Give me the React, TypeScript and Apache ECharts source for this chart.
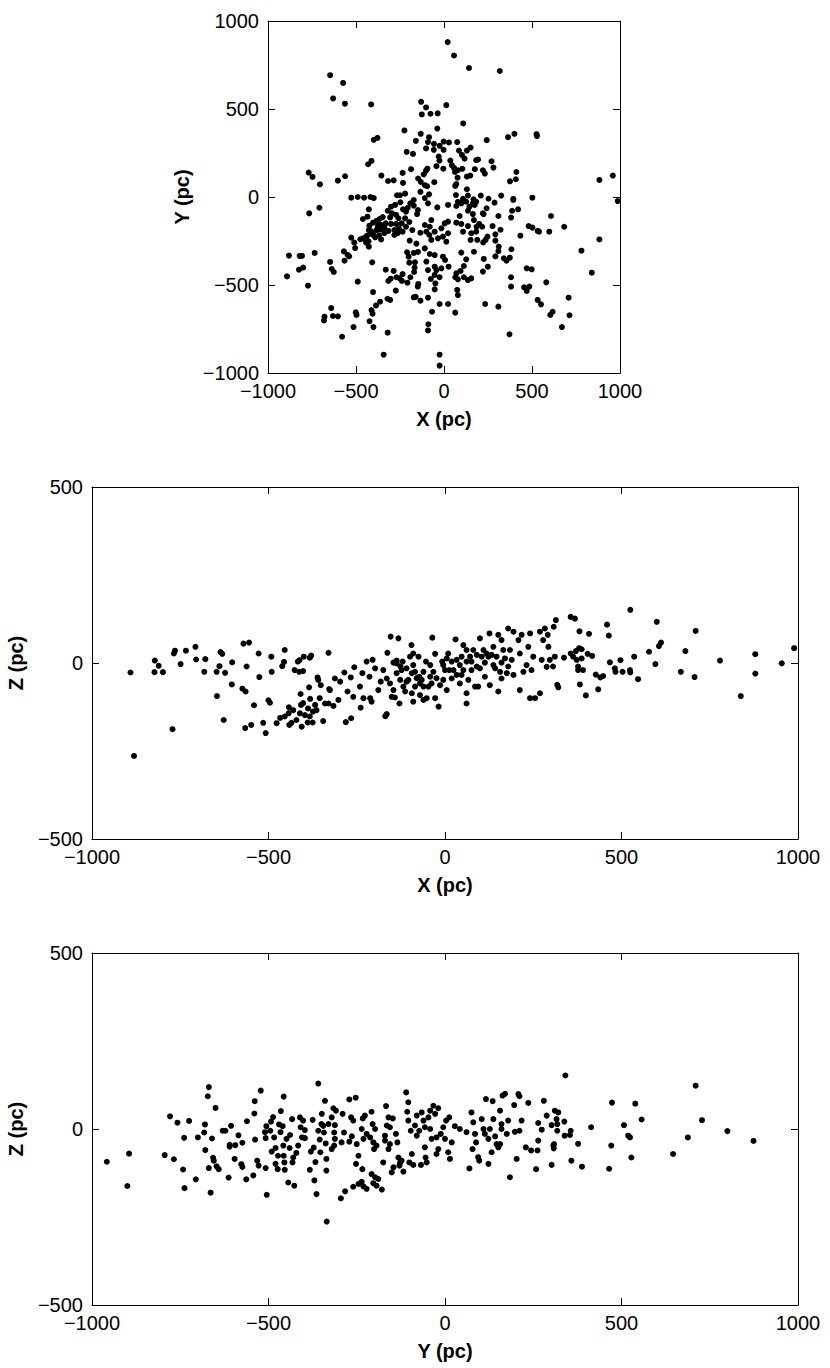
import React, { useEffect, useRef } from "react";
import * as echarts from "echarts";

// ---- Data (parsec) ----
const xyLabels = { x: "X (pc)", y: "Y (pc)" };
const xzLabels = { x: "X (pc)", y: "Z (pc)" };
const yzLabels = { x: "Y (pc)", y: "Z (pc)" };

// Panel 1: X vs Y
const pointsXY: [number, number][] = [
  [-647,692],[-573,648],[-630,560],[-563,530],[-414,526],[-225,378],[-378,336],[-399,325],[-212,256],[-176,245],[-412,205],[-431,186],[-769,139],[-747,114],[-705,72],[-603,93],[-562,118],[-356,122],[-318,91],[-286,95],[-235,137],[-233,80],[-187,158],[-527,-4],[-490,0],[-454,-4],[-418,0],[-399,-6],[-267,10],[-250,10],[-221,19],
  [21,880],[57,804],[142,733],[317,716],[-130,541],[-102,509],[-126,469],[-77,473],[-36,475],[13,522],[-38,389],[109,418],[-132,359],[-160,319],[-85,340],[-91,312],[-57,302],[-25,291],[-2,315],[28,310],[75,312],[243,323],[364,340],[400,359],[526,357],[528,346],[-102,276],[-58,268],[-2,268],[85,264],[130,264],[151,281],[102,239],[117,218],[-30,230],[-26,207],[-43,175],[36,207],[45,180],[57,165],[62,142],[79,152],[104,160],[-4,161],[183,209],[194,213],[270,203],[281,167],[221,152],[232,133],[175,158],[130,116],[149,122],[77,110],[70,74],[64,63],[411,142],[408,101],[375,89],[-94,161],[-102,150],[-115,129],[-147,105],[-132,86],[-109,67],[-96,61],[-55,84],[-134,29],[-85,15],[-109,-6],[68,11],[130,44],[136,8],[108,-10],[168,-13],[209,8],[253,-10],[325,8],[394,-11],[502,-4],[883,97],[959,122],
  [-766,-93],[-708,-61],[-881,-333],[-892,-451],[-820,-335],[-807,-335],[-824,-413],[-800,-401],[-735,-318],[-773,-504],[-647,-369],[-638,-409],[-626,-426],[-641,-631],[-679,-680],[-682,-701],[-631,-676],[-603,-678],[-579,-794],[-565,-362],[-569,-309],[-548,-328],[-539,-337],[-527,-231],[-510,-259],[-505,-290],[-490,-481],[-501,-655],[-497,-670],[-514,-739],[-475,-240],[-460,-235],[-441,-225],[-443,-259],[-429,-252],[-461,-125],[-435,-112],[-427,-70],[-408,-371],[-403,-540],[-412,-642],[-406,-663],[-423,-706],[-401,-739],[-386,-616],[-363,-595],[-343,-896],[-320,-771],[-321,-578],[-306,-585],[-331,-413],[-316,-477],[-303,-464],[-286,-420],[-270,-456],[-274,-532],[-252,-462],[-235,-438],[-239,-477],[-208,-487],[-191,-456],[-172,-570],[-161,-567],[-134,-589],[-146,-494],[-149,-509],[-170,-426],[-167,-401],[-165,-371],[-172,-318],[-210,-314],[-201,-339],[-197,-373],[-148,-312],[-157,-265],[-134,-203],[-180,-188],[-195,-248],[-153,-97],[-148,-74],[-172,-17],
  [-424,-163],[-403,-146],[-384,-136],[-376,-165],[-361,-157],[-414,-195],[-403,-214],[-384,-188],[-363,-184],[-339,-174],[-391,-229],[-369,-218],[-339,-205],[-316,-193],[-331,-150],[-306,-116],[-295,-93],[-272,-102],[-259,-121],[-272,-153],[-301,-153],[-282,-188],[-257,-178],[-240,-150],[-221,-121],[-216,-83],[-206,-61],[-191,-36],[-172,-49],[-233,-70],[-248,-30],[-278,-45],[-301,-55],[-320,-78],[-348,-114],[-367,-125],[-410,-210],[-427,-188],[-427,-282],[-437,-220],[-269,-197],[-235,-197],[-216,-169],[-197,-142],[-263,-206],[-357,-241],[-282,-216],
  [987,-23],[-38,-59],[394,-17],[287,-32],[242,-64],[225,-97],[309,-108],[387,-78],[421,-70],[381,-117],[608,-108],[481,-165],[502,-174],[532,-193],[540,-197],[598,-197],[683,-169],[883,-241],[781,-305],[840,-430],[434,-220],[383,-297],[374,-345],[355,-362],[340,-348],[309,-307],[311,-282],[292,-248],[292,-212],[321,-186],[276,-165],[292,-337],[226,-352],[236,-244],[223,-258],[247,-225],[217,-169],[185,-169],[183,-197],[155,-206],[151,-244],[189,-244],[200,-153],[170,-131],[221,-93],[164,-97],[136,-78],[89,-108],[70,-146],[98,-153],[108,-197],[136,-165],[170,-311],[98,-316],[126,-354],[113,-392],[94,-420],[113,-456],[136,-472],[155,-462],[79,-468],[70,-434],[64,-456],[75,-528],[79,-557],[64,-657],[23,-608],[-25,-608],[-68,-652],[-89,-723],[-91,-758],[-25,-896],[-25,-958],[-91,-572],[-75,-466],[-53,-443],[-49,-491],[-53,-525],[-25,-456],[-43,-415],[-91,-415],[-100,-367],[-53,-396],[-15,-405],[26,-396],[6,-358],[-6,-339],[-53,-330],[-81,-324],[-109,-292],[-72,-244],[-34,-235],[-6,-225],[13,-254],[23,-206],[-53,-197],[-81,-169],[-100,-197],[-83,-216],[-15,-178],[23,-140],[4,-150],[-72,-131],[-109,-159],[234,-608],[309,-623],[249,-396],[221,-424],[381,-456],[381,-509],[372,-780],[470,-405],[498,-411],[455,-513],[470,-534],[485,-509],[581,-485],[532,-585],[551,-610],[617,-652],[604,-670],[708,-572],[713,-672],[670,-739],[98,-36],[126,-27],[79,-27],[164,-36],[183,-27],[70,-51],[145,-55],[174,-45],[23,-45],[-91,-36]
];

// Panel 2: X vs Z
const pointsXZ: [number, number][] = [
  [-891,-27],[-881,-264],[-772,-188],[-822,7],[-811,-8],[-823,-26],[-799,-26],[-768,27],[-765,35],[-749,-3],[-734,35],[-707,46],[-705,10],[-679,11],[-682,-25],[-647,-25],[-639,-9],[-636,31],[-631,26],[-623,-28],[-603,2],[-604,-61],[-646,-94],[-627,-162],[-574,-73],[-565,-81],[-571,55],[-555,58],[-562,-10],[-528,27],[-526,-40],[-541,-120],[-566,-185],[-549,-176],[-515,-170],[-508,-199],[-500,-106],[-496,-113],[-492,18],[-491,-25],[-477,-171],[-467,-156],[-454,37],[-461,-9],[-456,3],[-441,-176],[-435,-170],[-454,-152],[-442,-126],[-443,-143],[-430,-134],[-426,-20],[-413,-25],[-402,-23],[-417,4],[-412,8],[-400,18],[-383,15],[-379,21],[-409,-88],[-406,-181],[-408,-119],[-402,-114],[-411,-143],[-397,-148],[-388,-129],[-383,-152],[-389,-169],[-375,-169],[-382,-102],[-385,-69],[-361,-41],[-359,-48],[-355,-100],[-345,-165],[-352,-63],[-330,29],[-328,-74],[-340,-115],[-368,-119],[-364,-134],[-374,-138],[-421,-162],
  [-330,-115],[-316,-122],[-326,-77],[-312,-44],[-297,-53],[-302,-105],[-281,-168],[-266,-157],[-285,-27],[-267,-41],[-257,-12],[-276,-81],[-260,-96],[-239,-127],[-231,-100],[-241,-67],[-234,-29],[-222,4],[-205,9],[-198,-15],[-214,-39],[-212,-100],[-208,-110],[-189,-77],[-182,-53],[-175,-20],[-163,29],[-154,75],[-132,70],[-156,-58],[-165,-44],[-169,-151],[-165,-145],[-146,-77],[-142,-98],[-129,-115],[-151,-96],[-137,-29],[-126,-10],[-137,7],[-146,1],[-120,4],[-118,-67],[-104,-48],[-95,51],[-99,18],[-90,27],[-90,-6],[-85,-25],[-75,18],[-73,-39],[-66,-48],[-94,-86],[-90,-110],[-71,-91],[-61,-105],[-52,-100],[-47,-67],[-42,-39],[-33,-25],[-28,26],[-36,72],[-54,4],[-61,-25],[-18,-124],[-28,-100],[-14,-63],[-5,-48],[-8,4],[5,13],[9,27],[12,-20],[19,-44],[5,-77],[30,67],[33,9],[42,-6],[52,51],[47,-34],[61,-86],[61,-115],[66,-48],[75,-20],[71,18],[80,37],[90,23],[85,-67],[94,-67],[99,70],[99,-15],[113,1],[113,-39],[123,18],[127,-63],[126,84],[137,46],[142,-15],[151,-81],[151,80],[160,65],[160,1],[165,37],[175,-29],[179,98],[184,37],[189,9],[194,89],[194,-34],[208,65],[212,27],[212,-77],[217,80],[222,-25],[231,-6],[236,46],[241,84],[241,-100],[250,18],[245,-20],[255,-100],[269,-86],[269,89],[274,9],[278,65],[283,98],[288,-11],[291,80],[293,46],[297,9],[311,18],[314,122],[318,-62],
  [-137,-1],[-123,-20],[-109,-15],[-94,-29],[-80,-43],[-71,-58],[-85,-67],[-109,-53],[-113,-81],[-127,-48],[-61,-67],[-38,-58],[-24,-43],[-42,-6],[0,-20],[24,-20],[33,-34],[42,-58],[52,-20],[61,4],[75,4],[90,-10],[104,18],[109,37],[118,27],[132,23],[146,18],[137,-6],[156,-25],[160,-44],[170,13],[179,-10],[61,37],[47,18],[19,4],[-5,-6],
  [308,103],[356,131],[368,126],[381,90],[408,83],[459,109],[464,78],[525,151],[600,117],[710,91],[337,15],[306,-10],[321,-69],[356,27],[363,18],[371,34],[380,42],[387,39],[373,9],[387,13],[377,-10],[377,-20],[391,-20],[382,-61],[399,-92],[404,26],[417,20],[427,-33],[440,-41],[448,-37],[434,-75],[467,2],[481,-15],[483,-25],[497,8],[503,-25],[524,-20],[525,-27],[536,18],[547,-46],[578,32],[596,-3],[606,48],[612,58],[668,-25],[681,34],[707,-40],[779,7],[838,-94],[879,25],[879,-30],[954,-1],[989,42]
];

// Panel 3: Y vs Z
const pointsYZ: [number, number][] = [
  [-958,-93],[-895,-70],[-900,-162],[-794,-74],[-768,-86],[-742,-115],[-738,-168],[-739,-25],[-779,36],[-758,18],[-725,23],[-706,-143],[-700,-24],[-682,-10],[-680,13],[-679,-60],[-672,93],[-669,119],[-669,-111],[-664,-181],[-660,-27],[-657,-82],[-655,-90],[-650,60],[-647,-106],[-641,-114],[-630,-5],[-622,-5],[-613,-138],[-610,-45],[-610,-50],[-606,9],[-596,-85],[-594,-46],[-585,-18],[-577,-100],[-574,-108],[-574,-39],[-563,-143],[-561,22],[-543,-132],[-540,44],[-539,79],[-538,-30],[-532,-90],[-528,-104],[-522,109],[-508,-111],[-508,-26],[-510,-9],[-505,-187],[-506,8],[-495,-5],[-493,21],[-487,34],[-491,-64],[-484,-24],[-480,-54],[-480,-99],[-474,-114],[-473,-76],[-470,13],[-466,-9],[-465,51],[-460,8],[-458,-47],[-457,92],[-457,-76],[-455,-95],[-454,-116],[-449,-28],[-444,-152],[-440,-54],[-439,-17],[-433,28],[-432,-95],[-430,-81],[-427,-161],[-421,-68],[-416,-47],[-411,33],[-409,5],[-405,-24],[-402,24],[-397,-3],[-397,-26],[-383,-116],[-380,-64],[-375,26],[-372,-53],[-370,-146],[-367,-94],[-364,-185],[-359,129],[-359,-5],[-355,-30],[-353,-66],[-349,43],[-345,9],[-343,-10],[-340,80],[-338,-41],[-336,-85],[-336,-118],[-335,-263],[-350,14],
  [-316,59],[-309,52],[-321,33],[-330,14],[-312,11],[-314,-10],[-312,-28],[-321,-57],[-314,-47],[-290,43],[-286,-10],[-293,-38],[-295,-197],[-283,-177],[-271,84],[-253,89],[-266,33],[-260,24],[-264,-21],[-271,-36],[-250,-43],[-245,-76],[-252,-99],[-260,-164],[-245,-156],[-233,30],[-227,38],[-236,0],[-231,-28],[-222,-14],[-236,-150],[-231,-163],[-222,-170],[-234,-114],[-208,49],[-205,14],[-212,-24],[-203,-38],[-201,-57],[-198,0],[-194,-47],[-208,-128],[-198,-137],[-203,-154],[-194,-161],[-189,-142],[-179,-172],[-175,-95],[-167,65],[-160,33],[-165,10],[-170,-19],[-170,-33],[-156,5],[-156,-43],[-160,-57],[-151,-123],[-146,-109],[-148,30],[-139,-14],[-135,-38],[-132,-81],[-129,-104],[-127,-95],[-123,-90],[-118,-121],[-110,104],[-104,76],[-104,24],[-107,49],[-97,-5],[-101,-95],[-94,-71],[-90,-102],[-85,10],[-80,38],[-80,-19],[-73,-5],[-68,-102],[-66,47],[-61,24],[-57,5],[-57,-52],[-55,-81],[-52,-95],[-47,33],[-42,52],[-42,0],[-38,-28],[-33,66],[-28,43],[-24,-24],[-24,-71],[-19,59],[-19,-57],[-12,-14],[-5,5],[0,-28],[3,24],[9,-66],[12,33],[14,-85],[19,-38],[28,8],[42,0],[61,-9],[69,-112],[75,47],[78,-57],[80,19],[85,-14],[88,-38],[94,-80],[97,-90],[104,28],[109,0],[113,-14],[116,85],[123,-28],[123,-99],[127,0],[132,-66],[135,79],[137,28],[142,-21],[146,-43],[151,-52],[156,52],[156,-43],[160,14],[160,0],[163,95],[170,100],[175,-14],[179,24],[184,-137],[196,68],[198,-8],[203,-85],[208,99],[211,93],[211,-5],[217,24],[229,-52],[236,74],[244,-61],[258,-114],[262,-61],[264,17],[264,-33],[274,-2],[280,80],[288,38],[302,-102],[307,-47],[302,11],[311,52],[316,28],[318,-5],
  [341,152],[321,47],[318,14],[338,21],[356,-5],[354,-17],[339,-19],[309,-43],[308,-55],[358,-90],[377,-42],[388,-107],[414,5],[465,-113],[471,-47],[473,75],[507,11],[519,-19],[524,-24],[528,-81],[539,72],[557,27],[646,-71],[688,-24],[710,123],[728,25],[800,-6],[874,-34]
];

const FONT = "'Liberation Sans', Arial, Helvetica, sans-serif";
const minus = (v: number) => String(v).replace("-", "\u2212");

type PanelDef = {
  grid: { left: number; top: number; width: number; height: number };
  xRange: [number, number];
  yRange: [number, number];
  labels: { x: string; y: string };
  data: [number, number][];
  yNameGap: number;
};

const panels: PanelDef[] = [
  { grid: { left: 268, top: 21, width: 352, height: 352 }, xRange: [-1000, 1000], yRange: [-1000, 1000], labels: xyLabels, data: pointsXY, yNameGap: 76 },
  { grid: { left: 92, top: 487, width: 706, height: 352 }, xRange: [-1000, 1000], yRange: [-500, 500], labels: xzLabels, data: pointsXZ, yNameGap: 66 },
  { grid: { left: 92, top: 953, width: 706, height: 352 }, xRange: [-1000, 1000], yRange: [-500, 500], labels: yzLabels, data: pointsYZ, yNameGap: 66 },
];

export default function App() {
  const ref = useRef<HTMLDivElement>(null);
  useEffect(() => {
    document.body.style.margin = "0";
    if (!ref.current) return;
    const chart = echarts.init(ref.current, undefined, { renderer: "svg" });

    const grids: any[] = [];
    const xAxes: any[] = [];
    const yAxes: any[] = [];
    const series: any[] = [];
    const tick = { show: true, inside: true, length: 7, lineStyle: { color: "#000", width: 1 } };
    const line = { show: true, onZero: false, lineStyle: { color: "#000", width: 1 } };
    const label = { fontFamily: FONT, fontSize: 20, color: "#000", formatter: minus };
    const nameStyle = { fontFamily: FONT, fontSize: 20, fontWeight: "bold", color: "#000" };

    panels.forEach((p, i) => {
      grids.push({ ...p.grid, containLabel: false, outerBoundsMode: "none" });
      const xInterval = 500;
      const yInterval = 500;
      xAxes.push({
        type: "value", gridIndex: i, position: "bottom", min: p.xRange[0], max: p.xRange[1], interval: xInterval,
        axisLine: line, axisTick: tick, splitLine: { show: false },
        axisLabel: { ...label, margin: 8 },
        name: p.labels.x, nameLocation: "middle", nameGap: 36, nameTextStyle: nameStyle, nameMoveOverlap: false,
      });
      xAxes.push({
        type: "value", gridIndex: i, position: "top", min: p.xRange[0], max: p.xRange[1], interval: xInterval,
        axisLine: line, axisTick: tick, splitLine: { show: false }, axisLabel: { show: false },
      });
      yAxes.push({
        type: "value", gridIndex: i, position: "left", min: p.yRange[0], max: p.yRange[1], interval: yInterval,
        axisLine: line, axisTick: tick, splitLine: { show: false },
        axisLabel: { ...label, margin: 9 },
        name: p.labels.y, nameLocation: "middle", nameGap: p.yNameGap, nameTextStyle: nameStyle, nameMoveOverlap: false,
      });
      yAxes.push({
        type: "value", gridIndex: i, position: "right", min: p.yRange[0], max: p.yRange[1], interval: yInterval,
        axisLine: line, axisTick: tick, splitLine: { show: false }, axisLabel: { show: false },
      });
      series.push({
        type: "scatter", xAxisIndex: i * 2, yAxisIndex: i * 2, data: p.data,
        symbol: "circle", symbolSize: 6, itemStyle: { color: "#000", opacity: 1 }, silent: true,
      });
    });

    chart.setOption({
      animation: false,
      backgroundColor: "#fff",
      grid: grids,
      xAxis: xAxes,
      yAxis: yAxes,
      series,
    });
    return () => chart.dispose();
  }, []);
  return <div ref={ref} style={{ width: 830, height: 1368, position: "absolute", left: 0, top: 0 }} />;
}
